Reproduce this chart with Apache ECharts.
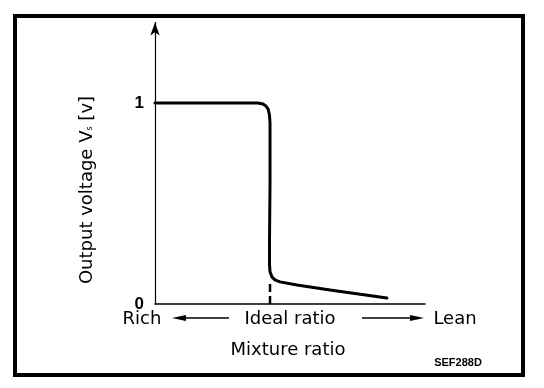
<!DOCTYPE html>
<html>
<head>
<meta charset="utf-8">
<script src="https://cdn.jsdelivr.net/npm/echarts@6/dist/echarts.min.js"></script>
<style>html,body{margin:0;padding:0;background:#fff}#c{width:544px;height:388px}</style>
</head>
<body>
<div id="c"></div>
<script>
// Mixture ratio (arbitrary units, Rich=0 .. Lean=100) and output voltage [V]
var curveX = [0, 16.7, 38.1, 40.0, 41.1, 41.9, 42.4, 42.6, 42.6, 42.4, 42.4, 42.6, 43.3, 44.4, 46.3, 52.6, 64.8, 85.9];
var curveY = [1.0, 1.0, 1.0, 0.995, 0.985, 0.97, 0.94, 0.90, 0.60, 0.30, 0.20, 0.16, 0.135, 0.12, 0.11, 0.095, 0.07, 0.03];
var idealX = [42.6, 42.6];
var idealY = [0, 0.105];
var yTickLabels = [0, 1];
var xTexts = ['Rich', 'Ideal ratio', 'Lean'];
var xTitle = 'Mixture ratio';
var yTitle = 'Output voltage V{s|s} [v]';
var figCode = 'SEF288D';

function pairs(xs, ys) { return xs.map(function (x, i) { return [x, ys[i]]; }); }

var FONT = '"DejaVu Sans", "Liberation Sans", Arial, sans-serif';
var FONT2 = '"Liberation Sans", Arial, Helvetica, sans-serif';
var chart = echarts.init(document.getElementById('c'), null, { renderer: 'canvas' });
chart.setOption({
  animation: false,
  backgroundColor: '#fff',
  grid: { left: 155, right: 119, top: 22.6, bottom: 84 },
  xAxis: {
    type: 'value', min: 0, max: 100,
    axisLine: { lineStyle: { color: '#000', width: 1.5 } },
    axisTick: { show: false }, axisLabel: { show: false }, splitLine: { show: false }
  },
  yAxis: {
    type: 'value', min: 0, max: 1.4, interval: 1,
    axisLine: { show: true, symbol: ['none', 'arrow'], symbolSize: [7, 13], symbolOffset: [0, 0],
      lineStyle: { color: '#000', width: 1.2 } },
    axisTick: { show: false }, splitLine: { show: false },
    axisLabel: {
      margin: 11, color: '#000', fontSize: 17, fontWeight: 'bold', fontFamily: FONT2,
      formatter: function (v) { return yTickLabels.indexOf(v) >= 0 ? String(v) : ''; }
    }
  },
  series: [
    { type: 'line', data: pairs(curveX, curveY), symbol: 'none', smooth: false,
      lineStyle: { color: '#000', width: 3, join: 'round', cap: 'round' } },
    { type: 'line', data: pairs(idealX, idealY), symbol: 'none',
      lineStyle: { color: '#000', width: 2.5, type: [8, 4] } }
  ],
  graphic: [
    { type: 'rect', shape: { x: 15, y: 16, width: 508, height: 359 },
      style: { fill: 'none', stroke: '#000', lineWidth: 4 } },
    { type: 'text', x: 87, y: 190, rotation: Math.PI / 2,
      style: { text: yTitle, font: '18px ' + FONT, fill: '#000', align: 'center', verticalAlign: 'middle',
        rich: { s: { fontSize: 8, fontFamily: FONT, fill: '#000', padding: [0, 0, -6, 0] } } } },
    { type: 'text', x: 142, y: 319, style: { text: xTexts[0], font: '18px ' + FONT, fill: '#000', align: 'center', verticalAlign: 'middle' } },
    { type: 'text', x: 290, y: 319, style: { text: xTexts[1], font: '18px ' + FONT, fill: '#000', align: 'center', verticalAlign: 'middle' } },
    { type: 'text', x: 455, y: 319, style: { text: xTexts[2], font: '18px ' + FONT, fill: '#000', align: 'center', verticalAlign: 'middle' } },
    { type: 'text', x: 288, y: 350, style: { text: xTitle, font: '18px ' + FONT, fill: '#000', align: 'center', verticalAlign: 'middle' } },
    { type: 'text', x: 458, y: 363, style: { text: figCode, font: 'bold 11px ' + FONT2, fill: '#000', align: 'center', verticalAlign: 'middle' } },
    { type: 'line', shape: { x1: 180, y1: 318, x2: 229, y2: 318 }, style: { stroke: '#000', lineWidth: 1.5 } },
    { type: 'polygon', shape: { points: [[172, 318], [186, 315], [186, 321]] }, style: { fill: '#000' } },
    { type: 'line', shape: { x1: 362, y1: 318, x2: 416, y2: 318 }, style: { stroke: '#000', lineWidth: 1.5 } },
    { type: 'polygon', shape: { points: [[424, 318], [410, 315], [410, 321]] }, style: { fill: '#000' } }
  ]
});
</script>
</body>
</html>
